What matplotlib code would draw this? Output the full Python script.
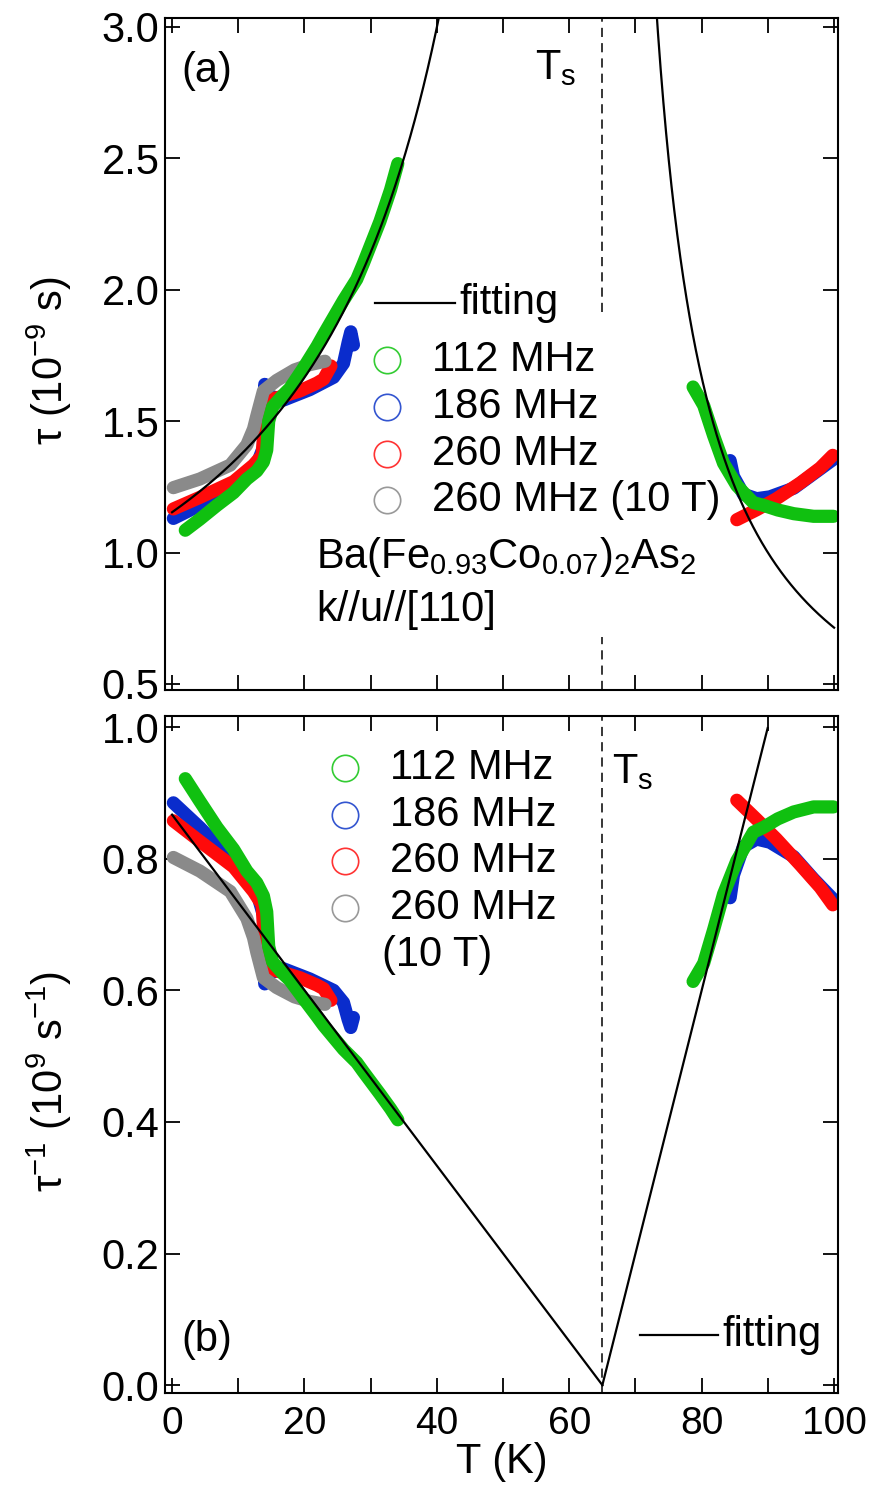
import numpy as np
import matplotlib
matplotlib.use("Agg")
import matplotlib.pyplot as plt
from matplotlib.ticker import MultipleLocator, FormatStrFormatter

plt.rcParams['font.family'] = ['Liberation Sans', 'DejaVu Sans']
plt.rcParams['mathtext.fontset'] = 'custom'
plt.rcParams['mathtext.rm'] = 'Liberation Sans'
plt.rcParams['mathtext.it'] = 'Liberation Sans:italic'
plt.rcParams['mathtext.bf'] = 'Liberation Sans:bold'

# ---- relaxation time tau (1e-9 s) versus temperature (K) ----
# 112 MHz
T_112_low = [2.0, 4.2, 6.8, 9.3, 11.3, 12.8, 13.8, 14.3, 14.6, 15.2, 16.8, 17.8,
             19.8, 21.9, 22.9, 25.9, 27.9, 28.9, 31.4, 33.0, 34.1]
tau_112_low = [1.085, 1.127, 1.18, 1.228, 1.28, 1.31, 1.345, 1.39, 1.50, 1.555, 1.60,
               1.625, 1.70, 1.785, 1.83, 1.96, 2.04, 2.10, 2.26, 2.38, 2.48]
T_112_high = [78.7, 80.3, 81.8, 83.3, 85.3, 87.8, 89.3, 91.5, 93.9, 96.9, 99.9]
tau_112_high = [1.63, 1.56, 1.445, 1.34, 1.255, 1.19, 1.18, 1.162, 1.148, 1.138, 1.138]

# 186 MHz
T_186_low = [0.2, 4.2, 9.3, 12.8, 13.8, 14.0, 14.3, 16.8, 20.8, 24.4, 25.9, 26.6, 27.0, 27.4]
tau_186_low = [1.13, 1.18, 1.258, 1.335, 1.40, 1.64, 1.60, 1.58, 1.62, 1.667, 1.72,
               1.80, 1.84, 1.79]
T_186_high = [84.3, 84.8, 86.3, 88.3, 90.3, 93.9, 96.9, 99.9]
tau_186_high = [1.35, 1.29, 1.222, 1.205, 1.212, 1.245, 1.30, 1.355]

# 260 MHz
T_260_low = [0.2, 4.2, 9.3, 12.3, 13.6, 14.0, 14.3, 16.8, 19.3, 21.9, 22.9, 24.0]
tau_260_low = [1.166, 1.21, 1.27, 1.333, 1.37, 1.50, 1.58, 1.595, 1.615, 1.645, 1.66, 1.71]
T_260_high = [85.3, 88.3, 91.3, 94.9, 97.9, 99.8]
tau_260_high = [1.125, 1.163, 1.205, 1.265, 1.322, 1.37]

# 260 MHz in 10 T
T_260_10T = [0.2, 4.2, 8.8, 11.3, 12.3, 12.8, 13.8, 15.8, 18.5, 20.8, 23.1]
tau_260_10T = [1.247, 1.28, 1.333, 1.41, 1.47, 1.52, 1.615, 1.655, 1.695, 1.715, 1.728]

# linear fit of the relaxation rate tau^-1 (1e9 s^-1), vanishing at Ts
T_s = 65.0
fit_T = [0.0, 65.0, 100.0]
fit_rate = [0.867, 0.0, 1.4]
fit_rate_max_b = 1.0

labels = ['112 MHz', '186 MHz', '260 MHz', '260 MHz (10 T)']
band_colors = ['#10c010', '#0a2ccc', '#ff0a0a', '#8a8a8a']
key_colors = ['#33cc33', '#3355d0', '#ff3333', '#999999']

series = [
    (1, [(T_186_low, tau_186_low), (T_186_high, tau_186_high)]),
    (2, [(T_260_low, tau_260_low), (T_260_high, tau_260_high)]),
    (3, [(T_260_10T, tau_260_10T)]),
    (0, [(T_112_low, tau_112_low), (T_112_high, tau_112_high)]),
]

FS = 30
FS_X = 28
fig = plt.figure(figsize=(8.69, 14.90), dpi=100)
ax_a = fig.add_axes([0.1899, 0.5369, 0.7745, 0.4510])
ax_b = fig.add_axes([0.1899, 0.0651, 0.7745, 0.4544])

band_lw = 9.5
for ax, recip in ((ax_a, False), (ax_b, True)):
    for idx, segs in series:
        for T, tau in segs:
            y = 1.0 / np.asarray(tau) if recip else np.asarray(tau)
            ax.plot(T, y, color=band_colors[idx], lw=band_lw,
                    solid_capstyle='round', solid_joinstyle='round', zorder=2)

# fitting curves
T_left = np.linspace(fit_T[0], fit_T[1] - 0.05, 600)
T_right = np.linspace(fit_T[1] + 0.05, fit_T[2], 600)
rate_left = np.interp(T_left, fit_T, fit_rate)
rate_right = np.interp(T_right, fit_T, fit_rate)
for T, r in ((T_left, rate_left), (T_right, rate_right)):
    tau = 1.0 / r
    keep = tau < 3.2
    ax_a.plot(T[keep], tau[keep], color='black', lw=1.6, zorder=4)
ax_b.plot(fit_T[:2], fit_rate[:2], color='black', lw=1.6, zorder=4)
keep_b = rate_right <= fit_rate_max_b
ax_b.plot(np.r_[fit_T[1], T_right[keep_b]], np.r_[fit_rate[1], rate_right[keep_b]],
          color='black', lw=1.6, zorder=4)

# Ts markers
ax_a.axvline(T_s, ymin=0.5625, ymax=1, color='black', lw=1.1, ls=(0, (6, 4)), zorder=1)
ax_a.axvline(T_s, ymin=0, ymax=0.079, color='black', lw=1.1, ls=(0, (6, 4)), zorder=1)
ax_b.axvline(T_s, color='black', lw=1.1, ls=(0, (6, 4)), zorder=1)

# axes styling
for ax in (ax_a, ax_b):
    ax.set_xlim(-1.06, 100.6)
    ax.xaxis.set_major_locator(MultipleLocator(20))
    ax.xaxis.set_minor_locator(MultipleLocator(10))
    ax.tick_params(which='both', direction='in', top=True, right=True,
                   length=11, width=1.3, pad=4)
    ax.tick_params(axis='y', labelsize=FS)
    ax.tick_params(axis='x', labelsize=FS_X, pad=9)
    for sp in ax.spines.values():
        sp.set_linewidth(1.5)

ax_a.set_ylim(0.477, 3.034)
ax_a.yaxis.set_major_locator(MultipleLocator(0.5))
ax_a.yaxis.set_major_formatter(FormatStrFormatter('%.1f'))
ax_a.tick_params(labelbottom=False)
ax_b.set_ylim(-0.012, 1.017)
ax_b.yaxis.set_major_locator(MultipleLocator(0.2))
ax_b.yaxis.set_major_formatter(FormatStrFormatter('%.1f'))

ax_a.set_ylabel('τ (10$^{-9}$ s)', fontsize=FS)
ax_b.set_ylabel('τ$^{-1}$ (10$^{9}$ s$^{-1}$)', fontsize=FS)
ax_b.set_xlabel('T (K)', fontsize=FS, labelpad=0)
ax_a.yaxis.set_label_coords(-0.135, 0.49)
ax_b.yaxis.set_label_coords(-0.135, 0.46)

# panel (a) annotations and key
ax_a.text(0.025, 0.921, '(a)', transform=ax_a.transAxes, fontsize=FS, va='center')
ax_a.text(0.549, 0.926, 'T$_\\mathregular{s}$', transform=ax_a.transAxes, fontsize=FS, va='center')
ax_a.plot([0.312, 0.431], [0.576, 0.576], color='black', lw=1.6, transform=ax_a.transAxes)
ax_a.text(0.438, 0.576, 'fitting', transform=ax_a.transAxes, fontsize=FS, va='center')
rows_a = [0.491, 0.421, 0.351, 0.283]
for i, fy in enumerate(rows_a):
    ax_a.plot([0.330], [fy], marker='o', ms=19, mfc='none', mec=key_colors[i], mew=1.2,
              transform=ax_a.transAxes, ls='none')
    ax_a.text(0.397, fy, labels[i], transform=ax_a.transAxes, fontsize=FS, va='center')
ax_a.text(0.224, 0.198, 'Ba(Fe$_{0.93}$Co$_{0.07}$)$_2$As$_2$', transform=ax_a.transAxes,
          fontsize=FS, va='center')
ax_a.text(0.224, 0.119, 'k//u//[110]', transform=ax_a.transAxes, fontsize=FS, va='center')

# panel (b) annotations and key
ax_b.text(0.025, 0.078, '(b)', transform=ax_b.transAxes, fontsize=FS, va='center')
ax_b.text(0.664, 0.917, 'T$_\\mathregular{s}$', transform=ax_b.transAxes, fontsize=FS, va='center')
ax_b.plot([0.706, 0.822], [0.0857, 0.0857], color='black', lw=1.6, transform=ax_b.transAxes)
ax_b.text(0.828, 0.0857, 'fitting', transform=ax_b.transAxes, fontsize=FS, va='center')
rows_b = [0.923, 0.854, 0.786, 0.716]
labels_b = ['112 MHz', '186 MHz', '260 MHz', '260 MHz']
for i, fy in enumerate(rows_b):
    ax_b.plot([0.2675], [fy], marker='o', ms=19, mfc='none', mec=key_colors[i], mew=1.2,
              transform=ax_b.transAxes, ls='none')
    ax_b.text(0.334, fy, labels_b[i], transform=ax_b.transAxes, fontsize=FS, va='center')
ax_b.text(0.323, 0.647, '(10 T)', transform=ax_b.transAxes, fontsize=FS, va='center')

fig.savefig('out.png', dpi=100)
